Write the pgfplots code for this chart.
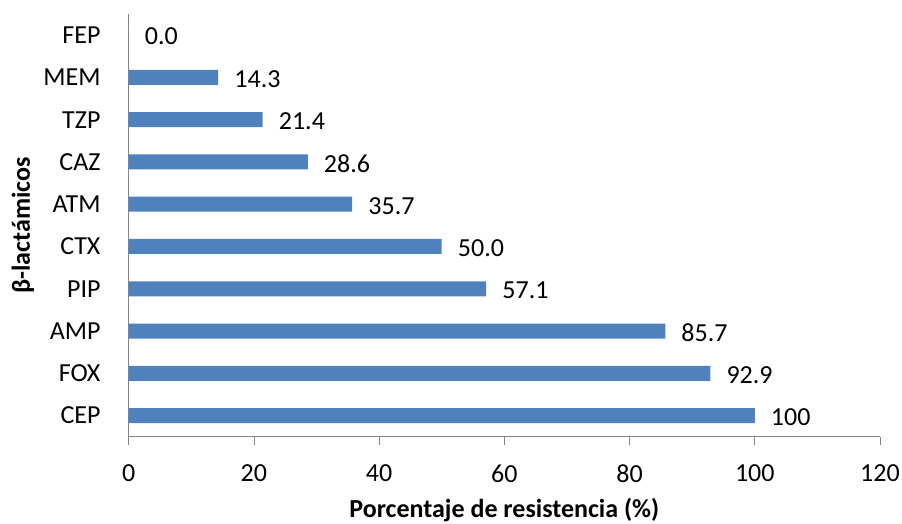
\documentclass[border=0pt]{standalone}
\usepackage{pgfplots}
\pgfplotsset{compat=1.18}
\usepackage{pgfplotstable}
\usepackage{fontspec}
\setmainfont{Carlito}
\definecolor{barblue}{HTML}{4F81BD}
\definecolor{axisgray}{HTML}{868686}

% resistance per beta-lactam, listed bottom to top
\pgfplotstableread{
pos val lab
0 100  100
1 92.9 92.9
2 85.7 85.7
3 57.1 57.1
4 50.0 50.0
5 35.7 35.7
6 28.6 28.6
7 21.4 21.4
8 14.3 14.3
9 0.0  0.0
}\resist

\newcommand{\chartfont}{\fontsize{26bp}{30bp}\selectfont}

\begin{document}
\begin{tikzpicture}
\path[use as bounding box] (-128.7bp,-87.3bp) rectangle (773.3bp,436.7bp);
\begin{axis}[
  at={(0,0)}, anchor=south west,
  scale only axis, width=751.3bp, height=422.7bp,
  xmin=0, xmax=120, ymin=-0.5, ymax=9.5,
  xtick={0,20,...,120},
  ytick={0,...,9},
  yticklabels={CEP,FOX,AMP,PIP,CTX,ATM,CAZ,TZP,MEM,FEP},
  axis x line*=bottom, axis y line*=left,
  axis line style={axisgray, line width=0.75bp},
  x tick style={axisgray, line width=0.75bp},
  major tick length=8bp,
  xtick align=outside,
  ytick style={draw=none},
  /pgf/number format/assume math mode=true,
  tick label style={font=\chartfont, text=black, inner sep=0pt},
  xticklabel style={yshift=-20bp},
  yticklabel style={xshift=-20bp},
  every axis x label/.style={at={(axis description cs:0.5,-0.1735)}, anchor=center, font=\chartfont\bfseries},
  every axis y label/.style={at={(axis description cs:-0.141,0.5)}, rotate=90, anchor=center, font=\chartfont\bfseries},
  xlabel={Porcentaje de resistencia (\%)},
  ylabel={β-lactámicos},
  xbar, bar width=15bp,
  nodes near coords,
  point meta=explicit symbolic,
  nodes near coords style={anchor=west, inner sep=0pt, xshift=16bp, yshift=-1.5bp, font=\chartfont, text=black},
  clip=false,
]
\addplot[fill=barblue, draw=none] table[x=val, y=pos, meta=lab] {\resist};
\end{axis}
\end{tikzpicture}
\end{document}
